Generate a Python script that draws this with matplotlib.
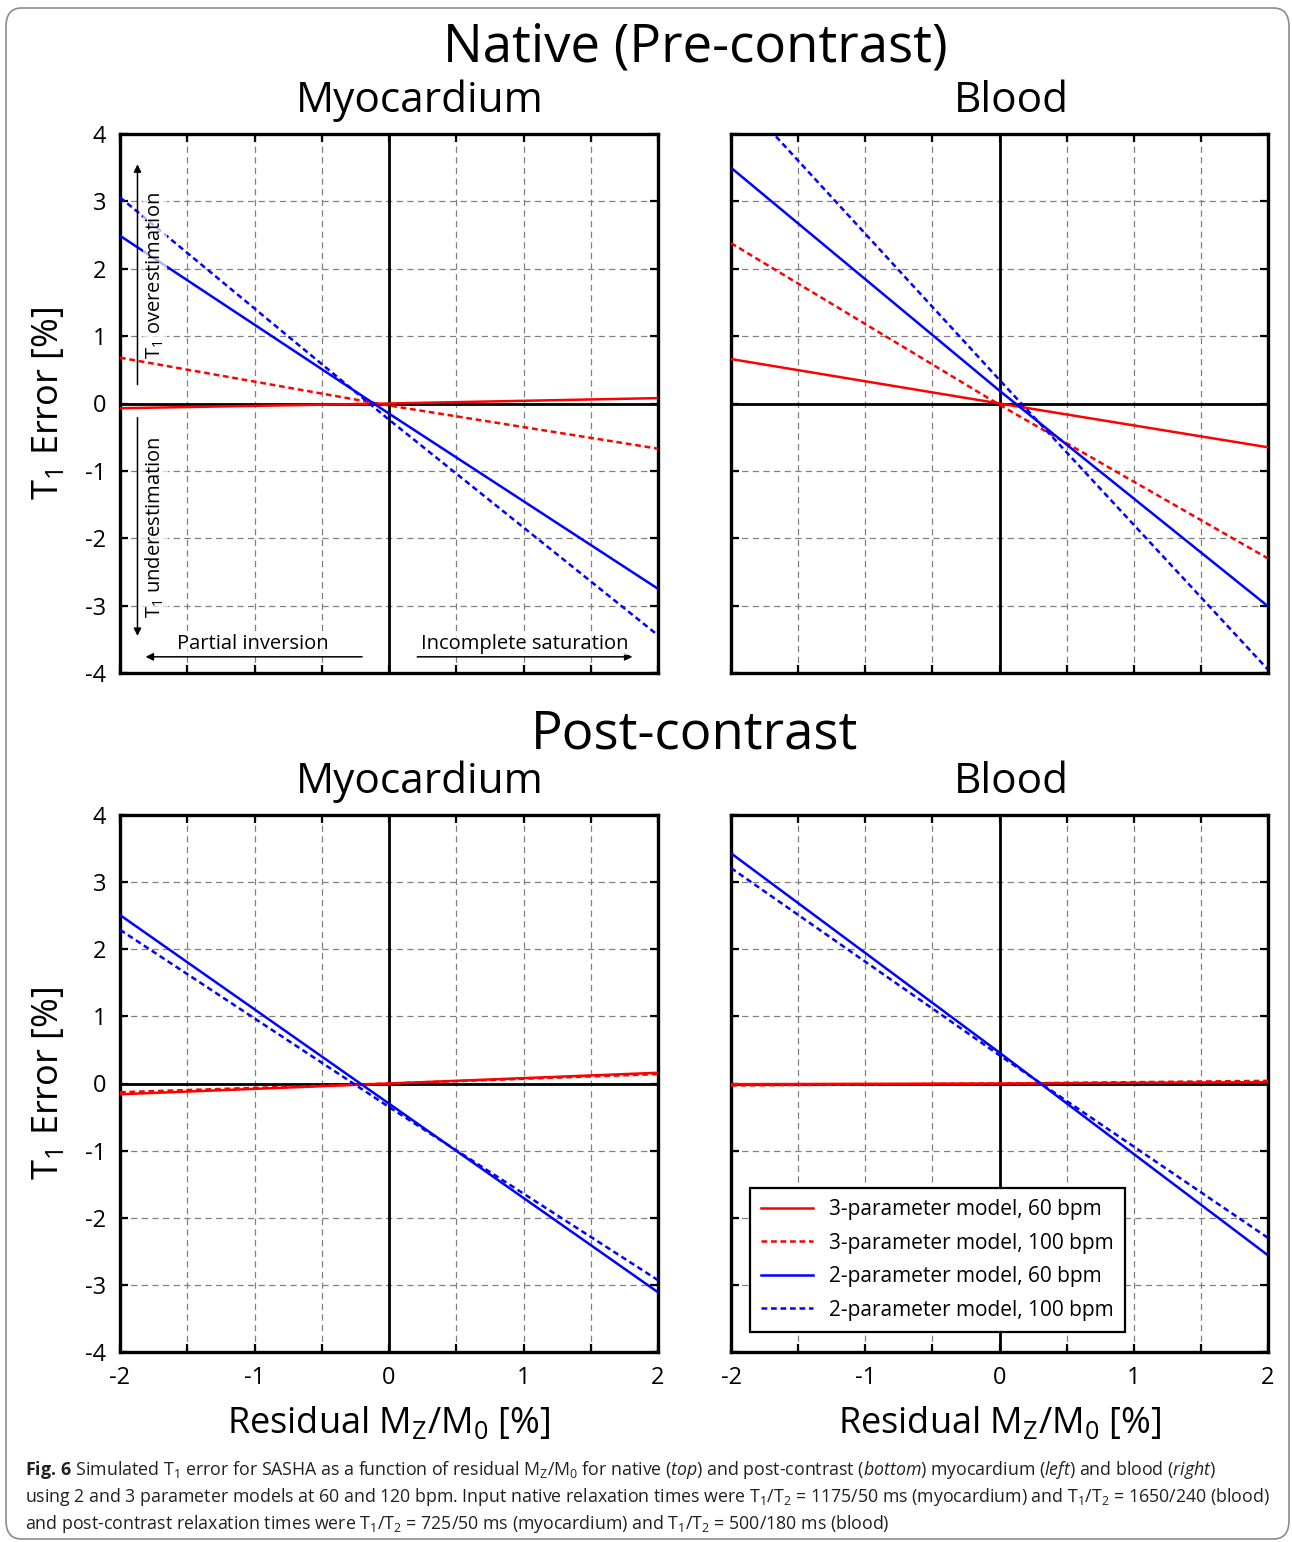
#!/usr/bin/env python3
"""
Simulated T1 error for SASHA vs residual Mz/M0, native and post-contrast,
myocardium and blood. Saves out.png.
"""

import matplotlib
matplotlib.use("Agg")
import matplotlib.pyplot as plt
from matplotlib.patches import FancyBboxPatch
from matplotlib.ticker import MultipleLocator, FuncFormatter

RESIDUAL = [-2, 0, 2]

# T1 error [%] - native (pre-contrast) myocardium
NATIVE_MYO_3P_60 = [-0.07, 0.0, 0.08]
NATIVE_MYO_3P_100 = [0.68, -0.03, -0.67]
NATIVE_MYO_2P_60 = [2.49, -0.15, -2.75]
NATIVE_MYO_2P_100 = [3.06, -0.24, -3.44]

# T1 error [%] - native (pre-contrast) blood
NATIVE_BLOOD_3P_60 = [0.66, 0.0, -0.65]
NATIVE_BLOOD_3P_100 = [2.38, -0.02, -2.30]
NATIVE_BLOOD_2P_60 = [3.50, 0.19, -3.01]
NATIVE_BLOOD_2P_100 = [4.69, 0.35, -3.95]

# T1 error [%] - post-contrast myocardium
POST_MYO_3P_60 = [-0.16, 0.0, 0.16]
POST_MYO_3P_100 = [-0.13, 0.0, 0.14]
POST_MYO_2P_60 = [2.51, -0.30, -3.11]
POST_MYO_2P_100 = [2.29, -0.35, -2.93]

# T1 error [%] - post-contrast blood
POST_BLOOD_3P_60 = [-0.01, 0.0, 0.02]
POST_BLOOD_3P_100 = [-0.03, 0.0, 0.04]
POST_BLOOD_2P_60 = [3.43, 0.46, -2.56]
POST_BLOOD_2P_100 = [3.21, 0.42, -2.30]

SERIES_LABELS = [
    "3-parameter model, 60 bpm",
    "3-parameter model, 100 bpm",
    "2-parameter model, 60 bpm",
    "2-parameter model, 100 bpm",
]

CAPTION = [
    r"$\mathbf{Fig.}\,\mathbf{6}$ Simulated T$_1$ error for SASHA as a function of residual "
    r"M$_\mathrm{Z}$/M$_0$ for native ($\mathit{top}$) and post-contrast ($\mathit{bottom}$) "
    r"myocardium ($\mathit{left}$) and blood ($\mathit{right}$)",
    r"using 2 and 3 parameter models at 60 and 120 bpm. Input native relaxation times were "
    r"T$_1$/T$_2$ = 1175/50 ms (myocardium) and T$_1$/T$_2$ = 1650/240 (blood)",
    r"and post-contrast relaxation times were T$_1$/T$_2$ = 725/50 ms (myocardium) and "
    r"T$_1$/T$_2$ = 500/180 ms (blood)",
]

W, H = 1292, 1542
FONT = "Open Sans"


def box(l, t, r, b):
    """Pixel box -> figure fraction rect"""
    return [l / W, 1 - b / H, (r - l) / W, (b - t) / H]


def fx(px):
    return px / W


def fy(py):
    return 1 - py / H


def setup_axes(ax, left_labels, bottom_labels):
    ax.set_xlim(-2, 2)
    ax.set_ylim(-4, 4)
    ax.xaxis.set_major_locator(MultipleLocator(0.5))
    ax.yaxis.set_major_locator(MultipleLocator(1))
    ax.xaxis.set_major_formatter(FuncFormatter(
        lambda v, p: f"{v:.0f}" if abs(v - round(v)) < 1e-6 else ""))
    ax.yaxis.set_major_formatter(FuncFormatter(lambda v, p: f"{v:.0f}"))
    ax.tick_params(direction="in", length=6, width=1.6, top=True, right=True,
                   labelsize=17, pad=10,
                   labelleft=left_labels, labelbottom=bottom_labels)
    for lab in ax.get_xticklabels() + ax.get_yticklabels():
        lab.set_family(FONT)
    for sp in ax.spines.values():
        sp.set_linewidth(2.4)
    ax.grid(True, color="#808080", linestyle=(0, (5, 3.5)), linewidth=0.9)
    ax.set_axisbelow(True)
    ax.axhline(0, color="black", lw=2.0, zorder=1.5)
    ax.axvline(0, color="black", lw=2.0, zorder=1.5)
    if left_labels:
        ax.set_ylabel("T$_1$ Error [%]", fontsize=26, family=FONT, labelpad=13)
    if bottom_labels:
        ax.set_xlabel(r"Residual M$_\mathrm{Z}$/M$_0$ [%]", fontsize=26,
                      family=FONT, labelpad=11)


def draw_series(ax, series):
    styles = [
        dict(color="#ff0000", linestyle="-"),
        dict(color="#ff0000", linestyle=(0, (2.3, 1.5))),
        dict(color="#0000ff", linestyle="-"),
        dict(color="#0000ff", linestyle=(0, (2.3, 1.5))),
    ]
    handles = []
    for values, label, st in zip(series, SERIES_LABELS, styles):
        h, = ax.plot(RESIDUAL, values, lw=1.8, label=label, zorder=3, **st)
        handles.append(h)
    return handles


def annotate_regions(ax):
    arrow = dict(arrowstyle="-|>", color="black", lw=1.1, mutation_scale=11,
                 shrinkA=0, shrinkB=0)
    # semi-transparent white behind the labels, like the original
    txt = dict(fontsize=14.5, family=FONT, ha="center", va="center", zorder=4,
               bbox=dict(facecolor="white", edgecolor="none", alpha=0.7, pad=1))
    # vertical: over/under-estimation
    ax.annotate("", xy=(-1.87, 3.55), xytext=(-1.87, 0.28), arrowprops=arrow)
    ax.annotate("", xy=(-1.87, -3.45), xytext=(-1.87, -0.21), arrowprops=arrow)
    ax.text(-1.74, 1.9, "T$_1$ overestimation", rotation=90, **txt)
    ax.text(-1.74, -1.83, "T$_1$ underestimation", rotation=90, **txt)
    # horizontal: partial inversion / incomplete saturation
    ax.annotate("", xy=(-1.81, -3.76), xytext=(-0.2, -3.76), arrowprops=arrow)
    ax.annotate("", xy=(1.81, -3.76), xytext=(0.21, -3.76), arrowprops=arrow)
    ax.text(-1.01, -3.57, "Partial inversion", **txt)
    ax.text(1.01, -3.57, "Incomplete saturation", **txt)


def main():
    plt.rcParams["axes.unicode_minus"] = False
    plt.rcParams["mathtext.fontset"] = "custom"
    plt.rcParams["mathtext.rm"] = FONT
    plt.rcParams["mathtext.it"] = FONT + ":italic"
    plt.rcParams["mathtext.bf"] = FONT + ":bold"

    fig = plt.figure(figsize=(W / 100, H / 100), dpi=100)

    # rounded frame around the whole figure
    frame = FancyBboxPatch((fx(6), fy(1539)), fx(1283), 1531 / H,
                           boxstyle="round,pad=0,rounding_size=0.012",
                           transform=fig.transFigure, fill=False,
                           edgecolor="#8c8c8c", lw=1.2)
    fig.patches.append(frame)

    ax_nm = fig.add_axes(box(120, 134, 658, 673))
    ax_nb = fig.add_axes(box(731, 134, 1268, 673))
    ax_pm = fig.add_axes(box(120, 815, 658, 1352))
    ax_pb = fig.add_axes(box(731, 815, 1268, 1352))

    setup_axes(ax_nm, True, False)
    setup_axes(ax_nb, False, False)
    setup_axes(ax_pm, True, True)
    setup_axes(ax_pb, False, True)

    draw_series(ax_nm, [NATIVE_MYO_3P_60, NATIVE_MYO_3P_100,
                        NATIVE_MYO_2P_60, NATIVE_MYO_2P_100])
    draw_series(ax_nb, [NATIVE_BLOOD_3P_60, NATIVE_BLOOD_3P_100,
                        NATIVE_BLOOD_2P_60, NATIVE_BLOOD_2P_100])
    draw_series(ax_pm, [POST_MYO_3P_60, POST_MYO_3P_100,
                        POST_MYO_2P_60, POST_MYO_2P_100])
    handles = draw_series(ax_pb, [POST_BLOOD_3P_60, POST_BLOOD_3P_100,
                                  POST_BLOOD_2P_60, POST_BLOOD_2P_100])

    annotate_regions(ax_nm)

    leg = ax_pb.legend(handles=handles, loc="lower left",
                       bbox_to_anchor=(0.035, 0.037), borderaxespad=0,
                       fancybox=False, framealpha=1, edgecolor="black",
                       handlelength=2.5, handletextpad=0.75, labelspacing=0.6,
                       borderpad=0.55, prop=dict(family=FONT, size=15))
    leg.get_frame().set_linewidth(1.6)

    # titles
    fig.text(fx(695), fy(48), "Native (Pre-contrast)", ha="center", va="center",
             fontsize=38, family=FONT)
    fig.text(fx(695), fy(735), "Post-contrast", ha="center", va="center",
             fontsize=38, family=FONT)
    for y in (101, 782):
        fig.text(fx(420), fy(y), "Myocardium", ha="center", va="center",
                 fontsize=30.5, family=FONT)
        fig.text(fx(1011), fy(y), "Blood", ha="center", va="center",
                 fontsize=30.5, family=FONT)

    # caption
    for i, line in enumerate(CAPTION):
        fig.text(fx(25), fy(1470 + 27 * i), line, ha="left", va="center",
                 fontsize=12.8, family=FONT, color="#231f20")

    fig.savefig("out.png", dpi=100)
    plt.close(fig)


if __name__ == "__main__":
    main()
